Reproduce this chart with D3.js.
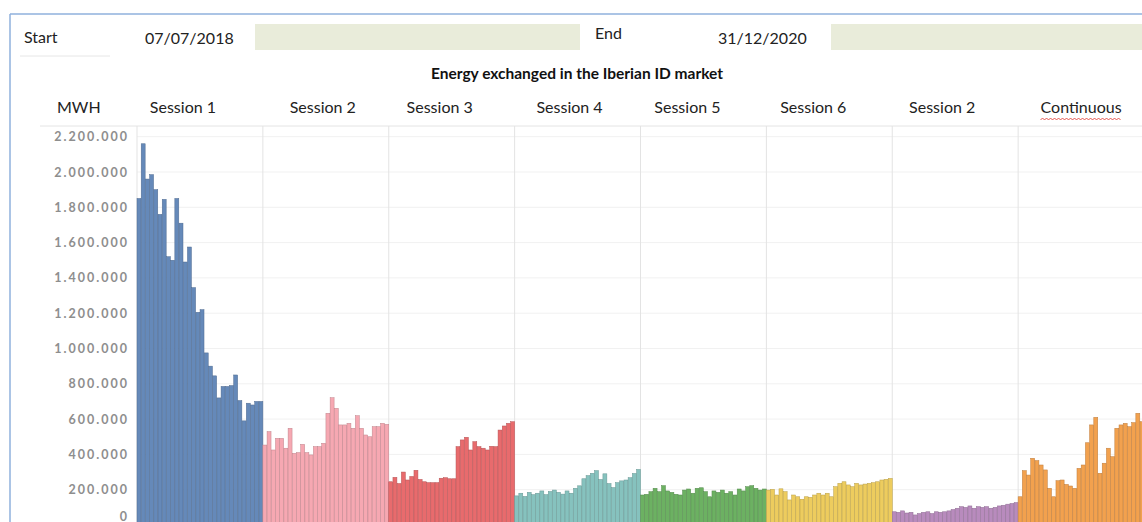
<!DOCTYPE html>
<html>
<head>
<meta charset="utf-8">
<script src="https://cdn.jsdelivr.net/npm/d3@7"></script>
<style>
  body { margin: 0; background: #fff; }
  svg text { font-family: Lato, "Open Sans", sans-serif; }
</style>
</head>
<body>
<div id="chart"></div>
<script>
// Panels (one per session) in display order
var sessionKeys = ["s1", "s2", "s3", "s4", "s5", "s6", "s2b", "cont"];
var sessionLabels = ["Session 1", "Session 2", "Session 3", "Session 4", "Session 5", "Session 6", "Session 2", "Continuous"];
var sessionColors = ["#6589b9", "#f6a8b2", "#e86b6d", "#86c2be", "#6cb162", "#edcc5e", "#b88bbd", "#f2a14e"];

// Monthly energy, thousand MWh, Jul 2018 .. Dec 2020
var session1 = [1850, 2160, 1960, 1985, 1900, 1760, 1845, 1520, 1500, 1850, 1710, 1490, 1575, 1345, 1205,
                1220, 975, 900, 845, 720, 785, 785, 790, 850, 705, 590, 690, 680, 700, 700];
var session2 = [453, 529, 425, 491, 491, 435, 548, 406, 410, 457, 410, 397, 444, 444, 463,
                633, 721, 661, 567, 567, 576, 548, 619, 548, 510, 500, 557, 557, 576, 570];
var session3 = [245, 270, 235, 300, 255, 275, 310, 258, 245, 240, 240, 240, 265, 268, 262,
                262, 444, 482, 497, 425, 472, 444, 435, 425, 446, 444, 538, 561, 576, 585];
var session4 = [165, 180, 162, 185, 172, 180, 193, 172, 190, 198, 185, 175, 193, 180, 208,
                222, 262, 280, 293, 308, 258, 290, 235, 212, 240, 250, 255, 268, 292, 315];
var session5 = [170, 174, 189, 208, 189, 223, 193, 185, 174, 170, 198, 204, 180, 208, 211,
                189, 160, 193, 185, 198, 180, 189, 170, 204, 193, 217, 223, 208, 198, 204];
var session6 = [198, 202, 170, 205, 189, 142, 170, 160, 146, 160, 157, 170, 180, 170, 180,
                160, 217, 236, 245, 227, 217, 236, 227, 232, 236, 240, 245, 255, 259, 264];
var session2b = [75, 72, 80, 68, 72, 57, 65, 72, 75, 65, 75, 72, 75, 80, 88,
                 95, 104, 100, 108, 95, 104, 100, 104, 95, 100, 108, 112, 118, 122, 127];
var continuous = [160, 308, 283, 378, 365, 340, 312, 208, 160, 251, 255, 230, 221, 208, 321,
                  340, 466, 567, 610, 293, 350, 435, 387, 548, 567, 576, 557, 580, 633, 585];

var seriesList = [session1, session2, session3, session4, session5, session6, session2b, continuous];

// y tick values (thousand MWh)
var yTicks = [0, 200, 400, 600, 800, 1000, 1200, 1400, 1600, 1800, 2000, 2200];

var startDate = "07/07/2018";
var endDate = "31/12/2020";
var chartTitle = "Energy exchanged in the Iberian ID market";

// months on the inner axis of every panel
var months = d3.timeMonth.range(new Date(2018, 6, 1), new Date(2021, 0, 1));

// SVG area
var svgWidth = 1142;
var svgHeight = 522;
var plotLeft = 137;
var plotRight = 1144;
var plotTop = 126;
var baseY = 525;

// small shifts of the session captions (they are not centred in the original)
var labelDx = [-17, -3, -12, -8, -16, -16, -13, 0];

var svg = d3.select("#chart")
  .append("svg")
  .attr("width", svgWidth)
  .attr("height", svgHeight);

// outer frame (blue lines top and left)
svg.append("line")
  .attr("x1", 10).attr("x2", svgWidth).attr("y1", 14).attr("y2", 14)
  .attr("stroke", "#8fb0dc").attr("stroke-width", 1.5);
svg.append("line")
  .attr("x1", 10).attr("x2", 10).attr("y1", 14).attr("y2", svgHeight)
  .attr("stroke", "#8fb0dc").attr("stroke-width", 1.5);

// header row: start / end boxes
svg.append("rect").attr("x", 255).attr("y", 24).attr("width", 325).attr("height", 26).attr("fill", "#e9ecda");
svg.append("rect").attr("x", 831).attr("y", 24).attr("width", 311).attr("height", 26).attr("fill", "#e9ecda");
svg.append("line").attr("x1", 20).attr("x2", 110).attr("y1", 56).attr("y2", 56).attr("stroke", "#e6e6e6");

svg.append("text").attr("x", 24).attr("y", 43).attr("font-size", 16).attr("fill", "#222").text("Start");
svg.append("text").attr("x", 145).attr("y", 44).attr("font-size", 16).attr("fill", "#222").text(startDate);
svg.append("text").attr("x", 595).attr("y", 39).attr("font-size", 16).attr("fill", "#222").text("End");
svg.append("text").attr("x", 718).attr("y", 44).attr("font-size", 16).attr("fill", "#222").text(endDate);

// title
svg.append("text")
  .attr("x", 577).attr("y", 79)
  .attr("text-anchor", "middle")
  .attr("font-size", 15.5)
  .attr("font-weight", 700)
  .attr("fill", "#111")
  .text(chartTitle);

// scales
var xOuter = d3.scaleBand()
  .domain(sessionKeys)
  .range([plotLeft, plotRight]);

var xInner = d3.scaleBand()
  .domain(d3.range(months.length))
  .range([0, xOuter.bandwidth()])
  .paddingInner(0.06);

var yScale = d3.scaleLinear()
  .domain([0, 2200])
  .range([baseY, 136.7]);

var fmt = d3.formatLocale({ decimal: ",", thousands: ".", grouping: [3], currency: ["", "€"] }).format(",d");

// header of the plot: MWH and session captions
svg.append("text").attr("x", 57).attr("y", 113).attr("font-size", 16).attr("fill", "#222").text("MWH");

var captions = svg.selectAll(".caption")
  .data(sessionKeys)
  .enter()
  .append("text")
  .attr("class", "caption")
  .attr("x", (d, i) => xOuter(d) + xOuter.bandwidth() / 2 + labelDx[i])
  .attr("y", 113)
  .attr("text-anchor", "middle")
  .attr("font-size", 16)
  .attr("fill", "#222")
  .text((d, i) => sessionLabels[i]);

// spell-check squiggle under "Continuous"
var contBox = captions.filter(d => d === "cont").node().getBBox();
var wave = d3.range(contBox.x, contBox.x + contBox.width, 2)
  .map((x, i) => [x, 119 + (i % 2 ? -1 : 1)]);
svg.append("path")
  .attr("d", d3.line()(wave))
  .attr("fill", "none")
  .attr("stroke", "#e0312a")
  .attr("stroke-width", 0.8);

// grid
svg.append("line")
  .attr("x1", 40).attr("x2", svgWidth).attr("y1", plotTop).attr("y2", plotTop)
  .attr("stroke", "#e4e4e4");

svg.append("g")
  .selectAll("line")
  .data(yTicks.filter(t => t > 0))
  .enter()
  .append("line")
  .attr("x1", plotLeft).attr("x2", svgWidth)
  .attr("y1", d => yScale(d)).attr("y2", d => yScale(d))
  .attr("stroke", "#f1f1f1");

svg.append("g")
  .selectAll("line")
  .data(sessionKeys)
  .enter()
  .append("line")
  .attr("x1", d => xOuter(d)).attr("x2", d => xOuter(d))
  .attr("y1", plotTop).attr("y2", svgHeight)
  .attr("stroke", "#e3e3e3");

// y axis
var leftAxis = d3.axisLeft(yScale)
  .tickValues(yTicks)
  .tickSize(0)
  .tickPadding(8)
  .tickFormat(d => fmt(d * 1000));

var yAxisG = svg.append("g")
  .attr("transform", `translate(${plotLeft}, 0)`)
  .call(leftAxis);
yAxisG.select(".domain").remove();
yAxisG.selectAll("text")
  .attr("font-family", "DejaVu Sans, sans-serif")
  .attr("font-size", 12.5)
  .attr("font-weight", 700)
  .attr("letter-spacing", 2)
  .attr("fill", "#8e8e8e");
yAxisG.selectAll(".tick").filter(d => d === 0).select("text").attr("y", -9);

// bars
sessionKeys.forEach(function(key, i) {
  var color = sessionColors[i];
  var panel = svg.append("g")
    .attr("transform", `translate(${xOuter(key)}, 0)`);

  panel.selectAll("rect")
    .data(seriesList[i])
    .enter()
    .append("rect")
    .attr("x", (d, j) => xInner(j))
    .attr("y", d => yScale(d))
    .attr("width", xInner.bandwidth())
    .attr("height", d => baseY - yScale(d))
    .attr("fill", color)
    .attr("stroke", d3.color(color).darker(0.7))
    .attr("stroke-width", 0.5);
});
</script>
</body>
</html>
